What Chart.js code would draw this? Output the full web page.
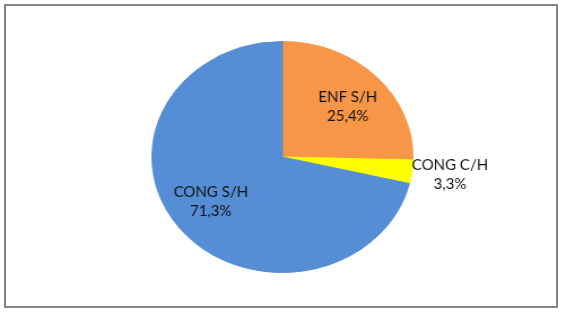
<!DOCTYPE html>
<html>
<head>
<meta charset="utf-8">
<script src="https://cdn.jsdelivr.net/npm/chart.js@4"></script>
<style>
  body { margin: 0; background: #fff; }
  #wrap { position: relative; width: 566px; height: 315px; overflow: hidden; }
  #myChart { position: absolute; left: 0; top: 0; width: 501px; height: 315px;
             transform: scaleX(1.1297); transform-origin: 0 0; }
  #frame { position: absolute; left: 4px; top: 4px; width: 550px; height: 300px;
           border: 2px solid #858585; pointer-events: none; }
</style>
</head>
<body>
<div id="wrap">
  <canvas id="myChart" width="501" height="315"></canvas>
  <div id="frame"></div>
</div>
<script>
const labels = ['ENF S/H', 'CONG C/H', 'CONG S/H'];
const values = [25.4, 3.3, 71.3];
const colors = ['#F79646', '#FFFF00', '#558ED5'];

const stretch = 1.1297;

// labels inside the slices, small slices get theirs outside
const sliceLabels = {
    id: 'sliceLabels',
    afterDatasetsDraw(chart) {
        const {ctx} = chart;
        const meta = chart.getDatasetMeta(0);
        ctx.save();
        ctx.font = '15px Lato';
        ctx.fillStyle = '#111';
        ctx.textBaseline = 'middle';
        ctx.textAlign = 'center';
        meta.data.forEach(function (arc, i) {
            const mid = (arc.startAngle + arc.endAngle) / 2;
            const text = [labels[i], values[i].toFixed(1).replace('.', ',') + '%'];
            const r = values[i] < 5 ? arc.outerRadius + 34 : arc.outerRadius * 0.7;
            const x = arc.x + Math.cos(mid) * r;
            const y = arc.y + Math.sin(mid) * r * 0.9;
            ctx.save();
            ctx.translate(x, y);
            ctx.scale(1 / stretch, 1);   // undo the css stretch for the text
            ctx.fillText(text[0], 0, -9.5);
            ctx.fillText(text[1], 0, 9.5);
            ctx.restore();
        });
        ctx.restore();
    }
};

new Chart(document.getElementById('myChart').getContext('2d'), {
    type: 'pie',
    data: {
        labels: labels,
        datasets: [{
            data: values,
            backgroundColor: colors,
            borderColor: colors,
            borderWidth: 1
        }]
    },
    options: {
        responsive: false,
        animation: false,
        events: [],
        layout: {
            padding: {top: 41, bottom: 42, left: 0, right: 1}
        },
        plugins: {
            legend: { display: false },
            tooltip: { enabled: false }
        }
    },
    plugins: [sliceLabels]
});
</script>
</body>
</html>
